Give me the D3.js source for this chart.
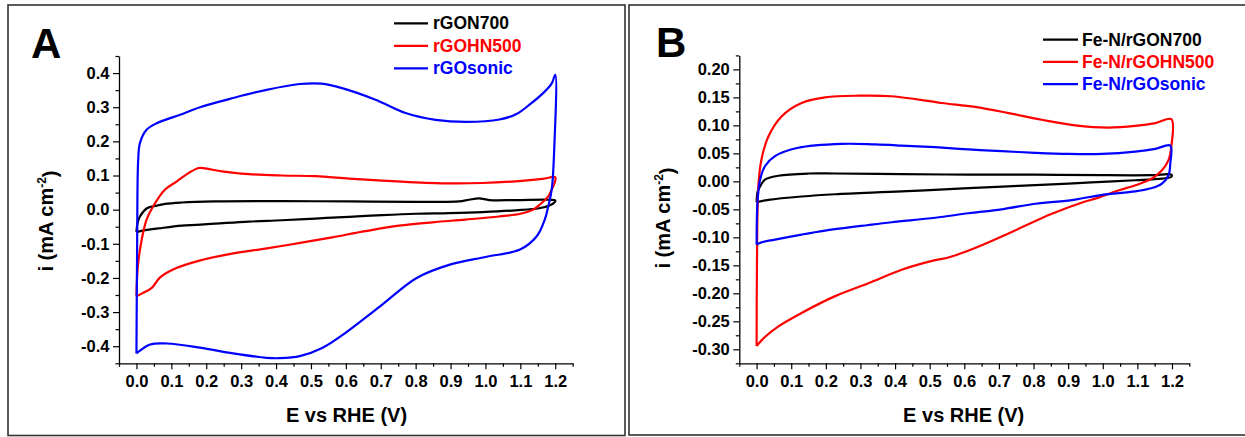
<!DOCTYPE html>
<html>
<head>
<meta charset="utf-8">
<script src="https://cdn.jsdelivr.net/npm/d3@7"></script>
<style>
  html, body { margin: 0; padding: 0; background: #fff; }
  svg { display: block; }
  text { font-family: "Liberation Sans", Arial, Helvetica, sans-serif; font-weight: bold; }
</style>
</head>
<body>
<svg id="chart" width="1245" height="437"></svg>
<script>
// ---------------- DATA (E vs RHE in V, i in mA cm^-2) ----------------
const xTickLabels = ["0.0","0.1","0.2","0.3","0.4","0.5","0.6","0.7","0.8","0.9","1.0","1.1","1.2"];
const yTicksA = [-0.4,-0.3,-0.2,-0.1,0.0,0.1,0.2,0.3,0.4];
const yTicksB = [-0.30,-0.25,-0.20,-0.15,-0.10,-0.05,0.00,0.05,0.10,0.15,0.20];

const seriesNamesA = ["rGON700", "rGOHN500", "rGOsonic"];
const seriesNamesB = ["Fe-N/rGON700", "Fe-N/rGOHN500", "Fe-N/rGOsonic"];
const seriesColors = ["#000000", "#ff0000", "#0000ff"];

// Panel A
const cvA_rGON700 = [
  [0,-0.066],[0.003,-0.040],[0.010,-0.020],[0.030,0.004],[0.050,0.010],[0.082,0.017],[0.130,0.021],[0.226,0.024],
  [0.417,0.025],[0.609,0.024],[0.800,0.023],[0.924,0.024],[0.953,0.029],[0.982,0.033],[1.011,0.028],
  [1.087,0.028],[1.183,0.029],[1.200,0.027],[1.199,0.023],[1.185,0.013],[1.154,0.004],[1.087,-0.002],
  [0.991,-0.007],[0.896,-0.010],[0.800,-0.012],[0.704,-0.016],[0.609,-0.021],[0.513,-0.026],[0.417,-0.031],
  [0.322,-0.035],[0.226,-0.041],[0.130,-0.047],[0.063,-0.055],[0.025,-0.060],[0,-0.066]
];
const cvA_rGOHN500 = [
  [0,-0.254],[0.004,-0.166],[0.015,-0.088],[0.029,-0.029],[0.048,0.010],[0.082,0.059],[0.116,0.083],
  [0.149,0.107],[0.178,0.122],[0.197,0.121],[0.245,0.112],[0.322,0.104],[0.417,0.100],[0.513,0.098],
  [0.609,0.091],[0.704,0.085],[0.800,0.080],[0.896,0.077],[0.991,0.078],[1.087,0.083],[1.164,0.090],
  [1.200,0.095],[1.197,0.075],[1.190,0.060],[1.180,0.039],[1.156,0.015],[1.137,0.000],[1.100,-0.012],
  [1.039,-0.020],[0.943,-0.029],[0.848,-0.037],[0.752,-0.047],[0.656,-0.063],[0.561,-0.081],[0.465,-0.098],
  [0.369,-0.114],[0.274,-0.129],[0.178,-0.150],[0.105,-0.175],[0.067,-0.199],[0.044,-0.229],[0.015,-0.246],[0,-0.254]
];
const cvA_rGOsonic = [
  [0,-0.421],[0.002,-0.100],[0.005,0.146],[0.010,0.195],[0.029,0.234],[0.058,0.253],[0.125,0.278],
  [0.182,0.300],[0.277,0.327],[0.373,0.351],[0.468,0.368],[0.530,0.369],[0.589,0.356],[0.685,0.322],
  [0.771,0.283],[0.857,0.263],[0.946,0.257],[1.040,0.264],[1.089,0.280],[1.127,0.308],[1.166,0.342],
  [1.190,0.370],[1.200,0.395],
  [1.197,0.176],[1.190,0.060],[1.180,0.010],[1.170,-0.029],[1.147,-0.078],[1.099,-0.117],[1.003,-0.138],
  [0.898,-0.161],[0.803,-0.200],[0.698,-0.283],[0.593,-0.365],[0.532,-0.405],[0.468,-0.429],[0.410,-0.435],
  [0.373,-0.434],[0.277,-0.421],[0.182,-0.404],[0.087,-0.392],[0.039,-0.395],[0,-0.421]
];

// Panel B
const cvB_rGON700 = [
  [0,-0.037],[0.003,-0.018],[0.010,-0.009],[0.024,0.003],[0.063,0.010],[0.149,0.014],[0.227,0.014],
  [0.419,0.013],[0.612,0.012],[0.805,0.012],[0.998,0.011],[1.142,0.011],[1.198,0.012],
  [1.198,0.008],[1.171,0.005],[1.094,0.002],[0.998,-0.001],[0.901,-0.004],[0.757,-0.008],[0.612,-0.012],
  [0.419,-0.018],[0.227,-0.023],[0.130,-0.027],[0.034,-0.033],[0,-0.037]
];
const cvB_rGOHN500 = [
  [0,-0.294],[0.001,-0.150],[0.005,-0.009],[0.014,0.039],[0.034,0.080],[0.072,0.116],[0.130,0.140],
  [0.198,0.150],[0.294,0.153],[0.390,0.152],[0.535,0.140],[0.631,0.133],[0.728,0.122],[0.824,0.110],
  [0.920,0.100],[1.017,0.096],[1.094,0.099],[1.152,0.104],[1.198,0.111],
  [1.198,0.062],[1.190,0.038],[1.171,0.020],[1.142,0.005],[1.094,-0.007],[1.036,-0.018],[0.983,-0.030],
  [0.949,-0.036],[0.853,-0.058],[0.742,-0.089],[0.631,-0.119],[0.559,-0.135],[0.501,-0.143],[0.419,-0.158],
  [0.323,-0.182],[0.227,-0.205],[0.130,-0.235],[0.063,-0.259],[0.024,-0.278],[0,-0.294]
];
const cvB_rGOsonic = [
  [0,-0.113],[0.001,-0.060],[0.003,-0.033],[0.010,0.003],[0.024,0.027],[0.053,0.045],[0.120,0.060],
  [0.246,0.067],[0.342,0.066],[0.419,0.064],[0.516,0.061],[0.612,0.057],[0.708,0.054],[0.805,0.051],
  [0.901,0.049],[0.998,0.049],[1.094,0.053],[1.152,0.058],[1.195,0.064],
  [1.195,0.032],[1.190,0.011],[1.171,-0.004],[1.142,-0.012],[1.094,-0.018],[0.998,-0.024],[0.916,-0.033],
  [0.805,-0.040],[0.708,-0.050],[0.612,-0.057],[0.516,-0.065],[0.390,-0.073],[0.323,-0.078],[0.198,-0.088],
  [0.130,-0.095],[0.053,-0.104],[0.014,-0.109],[0,-0.113]
];

// ---------------- DRAWING ----------------
const svg = d3.select("#chart");
svg.append("rect").attr("x",0).attr("y",0).attr("width",1245).attr("height",437).attr("fill","#fff");

const panels = [
  {
    letter: "A", frame: [8, 5, 617, 430.5], letterPos: [31, 58],
    xRange: [119, 572.7], yRange: [363.3, 56], xDomain: [-0.05, 1.25], yDomain: [-0.45, 0.45],
    yTicks: yTicksA, yMinorStep: 0.05, yFmt: d => d.toFixed(1),
    series: [cvA_rGON700, cvA_rGOHN500, cvA_rGOsonic], names: seriesNamesA,
    legend: { x1: 394, x2: 428, tx: 433, base: 29.3, dy: 22.5 },
    yLabel: { x: 53, y: 221 }, xLabel: { x: 346.5, y: 422 }
  },
  {
    letter: "B", frame: [629, 5, 630, 430], letterPos: [656, 57],
    xRange: [739.3, 1189.3], yRange: [363.3, 55.4], xDomain: [-0.05, 1.25], yDomain: [-0.325, 0.225],
    yTicks: yTicksB, yMinorStep: 0.025, yFmt: d => d.toFixed(2),
    series: [cvB_rGON700, cvB_rGOHN500, cvB_rGOsonic], names: seriesNamesB,
    legend: { x1: 1043, x2: 1078, tx: 1082, base: 45.7, dy: 22.2 },
    yLabel: { x: 670, y: 218 }, xLabel: { x: 963.7, y: 422 }
  }
];

panels.forEach(p => {
  const g = svg.append("g");
  g.append("rect")
    .attr("x", p.frame[0]).attr("y", p.frame[1])
    .attr("width", p.frame[2]).attr("height", p.frame[3])
    .attr("fill", "none").attr("stroke", "#333").attr("stroke-width", 1.6);

  const x = d3.scaleLinear().domain(p.xDomain).range(p.xRange);
  const y = d3.scaleLinear().domain(p.yDomain).range(p.yRange);

  const xMinor = d3.range(-0.05, 1.2501, 0.1).map(v => +v.toFixed(3));
  const yMinor = [];
  for (let v = p.yDomain[0]; v <= p.yDomain[1] + 1e-9; v += p.yMinorStep) {
    const r = +v.toFixed(4);
    if (!p.yTicks.some(t => Math.abs(t - r) < 1e-6)) yMinor.push(r);
  }
  g.append("g").attr("transform", `translate(0,${p.yRange[0]})`)
    .call(d3.axisBottom(x).tickValues(xMinor).tickSize(3.5).tickSizeOuter(0).tickFormat(""))
    .call(a => a.select(".domain").remove())
    .selectAll("line").attr("stroke", "#000").attr("stroke-width", 1.2);
  g.append("g").attr("transform", `translate(${p.xRange[0]},0)`)
    .call(d3.axisLeft(y).tickValues(yMinor).tickSize(3.5).tickSizeOuter(0).tickFormat(""))
    .call(a => a.select(".domain").remove())
    .selectAll("line").attr("stroke", "#000").attr("stroke-width", 1.2);

  const xTickVals = xTickLabels.map(Number);
  const xa = g.append("g").attr("transform", `translate(0,${p.yRange[0]})`)
    .call(d3.axisBottom(x).tickValues(xTickVals).tickSize(6).tickSizeOuter(0).tickPadding(6)
      .tickFormat((d, i) => xTickLabels[i]));
  const ya = g.append("g").attr("transform", `translate(${p.xRange[0]},0)`)
    .call(d3.axisLeft(y).tickValues(p.yTicks).tickSize(6).tickSizeOuter(0).tickPadding(3.5)
      .tickFormat(p.yFmt));
  [xa, ya].forEach(a => {
    a.select(".domain").attr("stroke", "#000").attr("stroke-width", 1.3);
    a.selectAll("line").attr("stroke", "#000").attr("stroke-width", 1.2);
    a.selectAll("text").attr("fill", "#000").style("font-size", "16.5px")
      .style("font-weight", "bold").style("font-family", '"Liberation Sans", Arial, sans-serif');
  });

  const line = d3.line().x(d => x(d[0])).y(d => y(d[1])).curve(d3.curveCatmullRom.alpha(0.5));
  p.series.forEach((s, i) => {
    g.append("path").datum(s).attr("d", line)
      .attr("fill", "none").attr("stroke", seriesColors[i]).attr("stroke-width", 2.2)
      .attr("stroke-linejoin", "round");
  });

  p.names.forEach((n, i) => {
    const by = p.legend.base + i * p.legend.dy;
    g.append("line").attr("x1", p.legend.x1).attr("x2", p.legend.x2)
      .attr("y1", by - 6).attr("y2", by - 6)
      .attr("stroke", seriesColors[i]).attr("stroke-width", 2.2);
    g.append("text").attr("x", p.legend.tx).attr("y", by)
      .attr("fill", seriesColors[i]).style("font-size", "17.5px").text(n);
  });

  g.append("text").attr("x", p.letterPos[0]).attr("y", p.letterPos[1])
    .style("font-size", "42px").attr("fill", "#000").text(p.letter);

  g.append("text").attr("x", p.xLabel.x).attr("y", p.xLabel.y)
    .attr("text-anchor", "middle").style("font-size", "20px").attr("fill", "#000")
    .text("E vs RHE (V)");
  const yl = g.append("text")
    .attr("transform", `translate(${p.yLabel.x},${p.yLabel.y}) rotate(-90)`)
    .attr("text-anchor", "middle").style("font-size", "20px").attr("fill", "#000");
  yl.append("tspan").text("i (mA cm");
  yl.append("tspan").attr("dy", "-0.55em").style("font-size", "12px").text("-2");
  yl.append("tspan").attr("dy", "0.55em").text(")");
});
</script>
</body>
</html>
